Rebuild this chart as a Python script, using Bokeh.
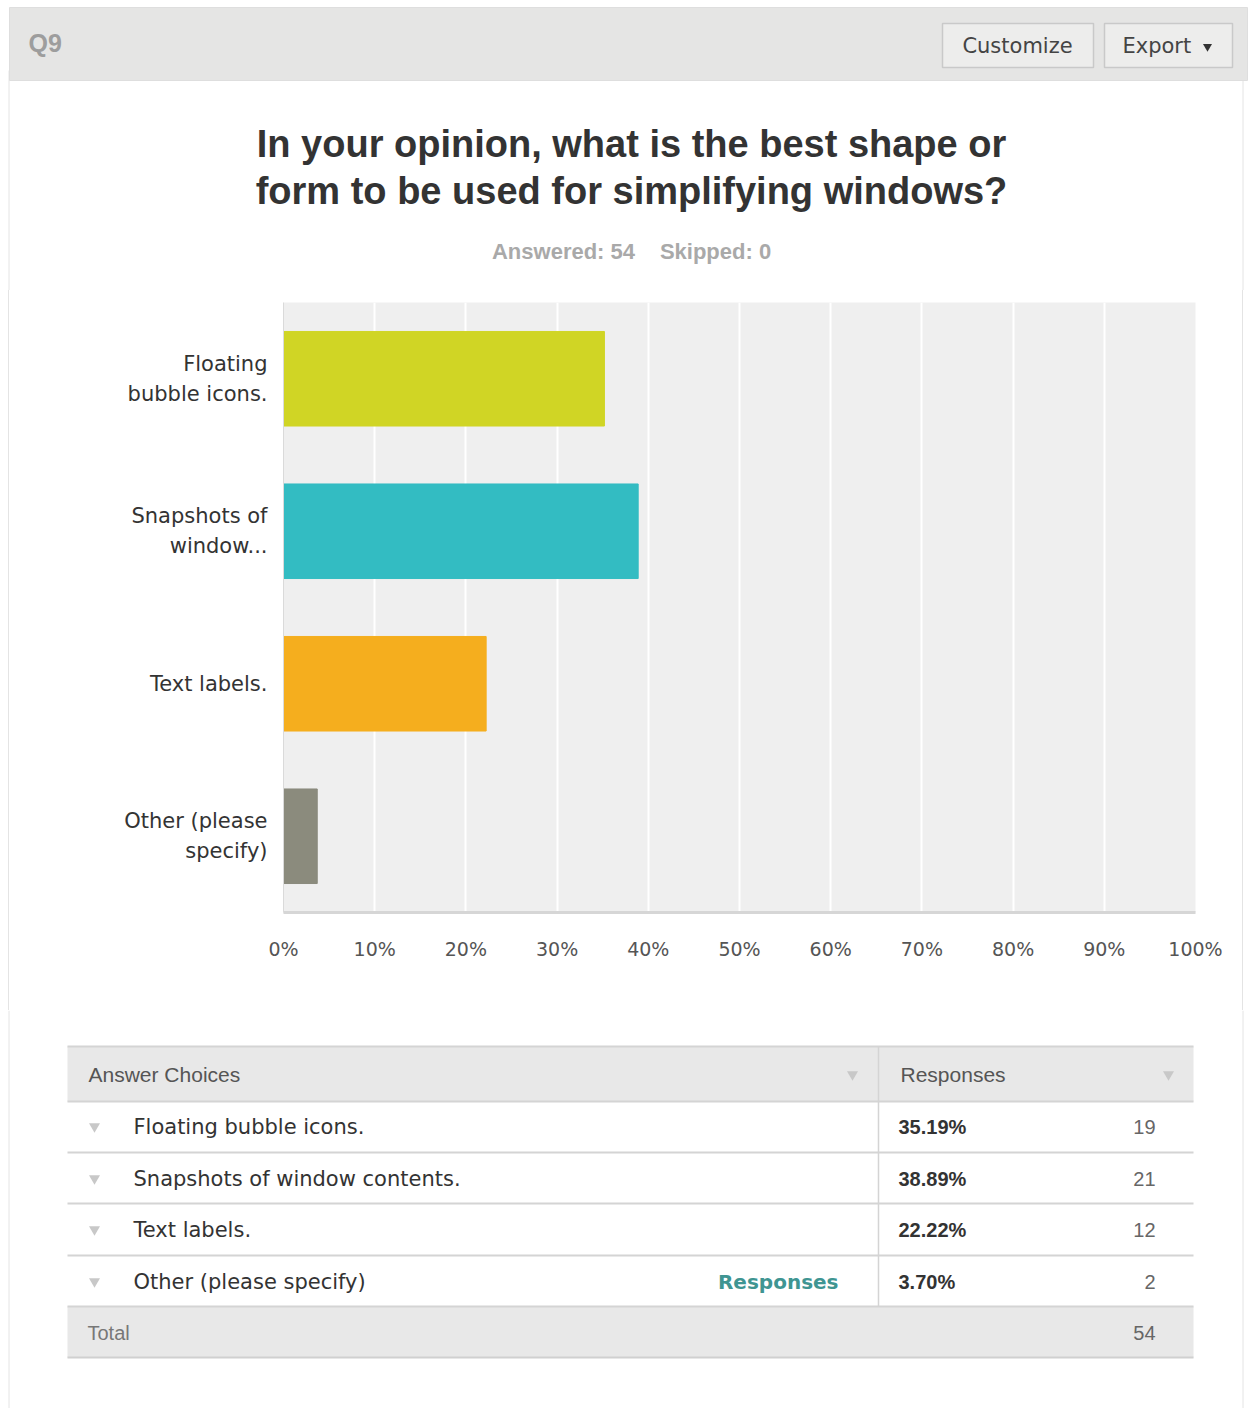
from bokeh.plotting import figure
from bokeh.layouts import column, row
from bokeh.models import Range1d, FactorRange, FixedTicker, CustomJSTickFormatter, ColumnDataSource, Spacer
from bokeh.core.properties import value
from bokeh.embed import file_html
from bokeh.resources import INLINE

# ---------------- data ----------------
question_id = "Q9"
title_lines = ["In your opinion, what is the best shape or",
               "form to be used for simplifying windows?"]
answered = 54
skipped = 0
categories = ["Floating\nbubble icons.", "Snapshots of\nwindow...", "Text labels.", "Other (please\nspecify)"]
full_labels = ["Floating bubble icons.", "Snapshots of window contents.", "Text labels.", "Other (please specify)"]
percents = [35.19, 38.89, 22.22, 3.70]
counts = [19, 21, 12, 2]
bar_colors = ["#d0d525", "#33bcc2", "#f5ae1e", "#8b8b7d"]
x_ticks = [0, 10, 20, 30, 40, 50, 60, 70, 80, 90, 100]
total = 54

W = 1249
ARIAL = value("Liberation Sans")
DV = value("DejaVu Sans")
BORDER = "#e4e4e4"


def canvas(width, height, y0, y1):
    f = figure(width=width, height=height, x_range=Range1d(0, width), y_range=Range1d(y1, y0),
               output_backend="svg", toolbar_location=None, min_border=0)
    f.axis.visible = False
    f.grid.visible = False
    f.outline_line_color = None
    f.background_fill_color = "white"
    f.border_fill_color = "white"
    return f

# ---------------- top figure ----------------
top = canvas(W, 290, 0, 290)
top.segment(x0=[8.5, 1242.5], y0=[70, 70], x1=[8.5, 1242.5], y1=[290, 290], line_color=BORDER, line_width=1)
top.quad(left=9, right=1247, top=80, bottom=7, fill_color="#e5e5e4", line_color="#dedede", line_width=1)
top.text(x=[28], y=[42], text=[question_id], text_font=ARIAL, text_font_style="bold",
         text_font_size="25px", text_color="#9d9d9d", text_baseline="middle")
top.quad(left=[942, 1104], right=[1093, 1232], top=[23, 23], bottom=[67, 67],
         fill_color="#ededec", line_color="#c9c9c9", line_width=1.5)
top.text(x=[1017], y=[45], text=["Customize"], text_font=DV, text_font_size="21px",
         text_color="#444444", text_align="center", text_baseline="middle")
top.text(x=[1122], y=[45], text=["Export"], text_font=DV, text_font_size="21px",
         text_color="#444444", text_align="left", text_baseline="middle")
top.scatter(x=[1207], y=[46], marker="inverted_triangle", size=9, fill_color="#333333", line_color=None)
top.text(x=[631, 631], y=[143, 190], text=title_lines, text_font=ARIAL, text_font_style="bold",
         text_font_size="38px", text_color="#333333", text_align="center", text_baseline="middle")
top.text(x=[563, 715], y=[251, 251], text=[f"Answered: {answered}", f"Skipped: {skipped}"],
         text_font=ARIAL, text_font_style="bold", text_font_size="22px", text_color="#a9a9a9",
         text_align="center", text_baseline="middle")

# ---------------- chart ----------------
CH = 720
factors = list(reversed(categories))
src = ColumnDataSource(dict(cat=categories, pct=percents, color=bar_colors))
p = figure(width=1231, height=CH, y_range=FactorRange(*factors), x_range=Range1d(0, 100),
           output_backend="svg", toolbar_location=None,
           min_border_left=274, min_border_right=45, min_border_top=12, min_border_bottom=98)
p.hbar(y="cat", right="pct", left=0, height=0.62, color="color", source=src)
p.background_fill_color = "#efefef"
p.border_fill_color = "white"
p.outline_line_color = None
p.ygrid.grid_line_color = None
p.xgrid.grid_line_color = "white"
p.xgrid.grid_line_width = 2
p.xaxis.ticker = FixedTicker(ticks=x_ticks)
p.xaxis.formatter = CustomJSTickFormatter(code="return tick + '%';")
p.xaxis.axis_line_color = "#d6d6d6"
p.xaxis.axis_line_width = 3
p.xaxis.major_tick_line_color = None
p.xaxis.minor_tick_line_color = None
p.xaxis.major_label_standoff = 19
p.xaxis.major_label_text_font = "DejaVu Sans"
p.xaxis.major_label_text_font_size = "19px"
p.xaxis.major_label_text_color = "#555555"
p.yaxis.axis_line_color = "#dadada"
p.yaxis.axis_line_width = 1
p.yaxis.major_tick_line_color = None
p.yaxis.minor_tick_line_color = None
p.yaxis.major_label_standoff = 10
p.yaxis.major_label_text_font = "DejaVu Sans"
p.yaxis.major_label_text_font_size = "21px"
p.yaxis.major_label_text_color = "#333333"
p.yaxis.major_label_text_align = "right"
p.yaxis.major_label_text_line_height = 1.25

chart_row = row(
    Spacer(width=8, height=CH),
    Spacer(width=1, height=CH, styles={"background-color": BORDER}),
    p,
    Spacer(width=2, height=CH),
    Spacer(width=1, height=CH, styles={"background-color": BORDER}),
    Spacer(width=6, height=CH),
    spacing=0,
)

# ---------------- table ----------------
tb = canvas(W, 398, 1010, 1408)
tb.segment(x0=[8.5, 1242.5], y0=[1010, 1010], x1=[8.5, 1242.5], y1=[1408, 1408], line_color=BORDER, line_width=1)
row_mid = [1126, 1178, 1229, 1281]
tb.quad(left=[67, 67], right=[1193, 1193], top=[1046, 1306], bottom=[1101, 1357],
        fill_color="#e8e8e8", line_color=None)
tb.segment(x0=[67] * 6, x1=[1193] * 6, y0=[1046, 1101, 1152, 1203, 1255, 1306],
           y1=[1046, 1101, 1152, 1203, 1255, 1306], line_color="#d4d4d4", line_width=2)
tb.segment(x0=[67], x1=[1193], y0=[1357], y1=[1357], line_color="#d0d0d0", line_width=2)
tb.segment(x0=[878], x1=[878], y0=[1046], y1=[1306], line_color="#d4d4d4", line_width=1.5)
tb.text(x=[88, 900], y=[1074, 1074], text=["Answer Choices", "Responses"], text_font=ARIAL,
        text_font_size="21px", text_color="#555555", text_baseline="middle")
tb.scatter(x=[852, 1168], y=[1074, 1074], marker="inverted_triangle", size=11,
           fill_color="#c8c8c8", line_color=None)
tb.scatter(x=[94] * 4, y=row_mid, marker="inverted_triangle", size=11,
           fill_color="#c8c8c8", line_color=None)
tb.text(x=[133] * 4, y=row_mid, text=full_labels, text_font=DV, text_font_size="21px",
        text_color="#333333", text_baseline="middle")
tb.text(x=[838], y=[row_mid[3]], text=["Responses"], text_font=DV, text_font_style="bold",
        text_font_size="20px", text_color="#3f9592", text_align="right", text_baseline="middle")
tb.text(x=[898] * 4, y=row_mid, text=[f"{v:.2f}%" for v in percents], text_font=ARIAL,
        text_font_style="bold", text_font_size="20px", text_color="#333333", text_baseline="middle")
tb.text(x=[1155] * 4, y=row_mid, text=[str(c) for c in counts], text_font=ARIAL,
        text_font_size="20px", text_color="#666666", text_align="right", text_baseline="middle")
tb.text(x=[87], y=[1332], text=["Total"], text_font=ARIAL, text_font_size="20px",
        text_color="#777777", text_baseline="middle")
tb.text(x=[1155], y=[1332], text=[str(total)], text_font=ARIAL, text_font_size="20px",
        text_color="#666666", text_align="right", text_baseline="middle")

layout = column(top, chart_row, tb, spacing=0)
open("out.html", "w").write(file_html(layout, INLINE))
